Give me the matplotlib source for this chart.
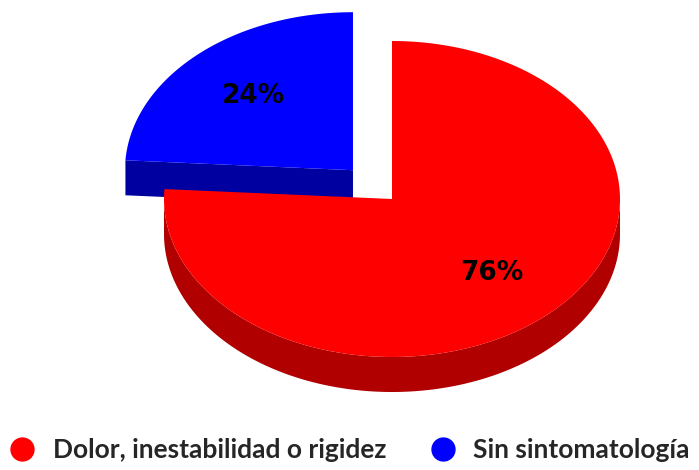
import numpy as np
from matplotlib import pyplot as plt
from matplotlib.patches import Polygon
from matplotlib.lines import Line2D

# chart data
labels = ['Dolor, inestabilidad o rigidez', 'Sin sintomatología']
values = [76, 24]
top_colors = ['#FF0000', '#0000FF']
side_colors = ['#B00000', '#0000A0']
explode = [0.0, 0.25]

# geometry of the 3D pie, in pixels
cx, cy = 392, 199
rx, ry = 228, 158
depth = 35


def ellipse_pts(a0, a1, dx, dy, down=0):
    a = np.radians(np.linspace(a0, a1, 200))
    return np.column_stack([cx + dx + rx * np.cos(a), cy + dy - ry * np.sin(a) + down])


fig = plt.figure(figsize=(6.99, 4.70), dpi=100)
ax = fig.add_axes([0, 0, 1, 1])
ax.set_xlim(0, 699)
ax.set_ylim(470, 0)
ax.axis('off')

# slices go clockwise from 12 o'clock, like Excel
fracs = np.array(values) / sum(values)
ends = 90 - 360 * np.cumsum(fracs)
starts = np.concatenate([[90], ends[:-1]])
slices = []
for i in range(len(values)):
    a0, a1 = ends[i], starts[i]  # increasing angle range
    mid = np.radians((a0 + a1) / 2)
    dx = explode[i] * rx * np.cos(mid)
    dy = -explode[i] * ry * np.sin(mid)
    slices.append((i, a0, a1, dx, dy))

# back slices first
slices.sort(key=lambda s: s[4])
for i, a0, a1, dx, dy in slices:
    # radial faces
    for a, sign in [(a0, 1), (a1, -1)]:
        normal = np.radians(a - 90 * sign)
        if np.sin(normal) < -1e-6:
            ex = cx + dx + rx * np.cos(np.radians(a))
            ey = cy + dy - ry * np.sin(np.radians(a))
            face = [(cx + dx, cy + dy), (ex, ey), (ex, ey + depth), (cx + dx, cy + dy + depth)]
            ax.add_patch(Polygon(face, closed=True, facecolor=side_colors[i], edgecolor='none'))
    # outer wall, front half only
    for k in range(-1, 2):
        lo = max(a0, 180 + 360 * k)
        hi = min(a1, 360 + 360 * k)
        if hi > lo:
            top = ellipse_pts(lo, hi, dx, dy)
            bot = ellipse_pts(lo, hi, dx, dy, depth)[::-1]
            ax.add_patch(Polygon(np.vstack([top, bot]), closed=True,
                                 facecolor=side_colors[i], edgecolor='none'))
    # top surface
    pts = np.vstack([[(cx + dx, cy + dy)], ellipse_pts(a0, a1, dx, dy)])
    ax.add_patch(Polygon(pts, closed=True, facecolor=top_colors[i], edgecolor='none'))
    # percentage label
    mid = np.radians((a0 + a1) / 2)
    lx = cx + dx + 0.64 * rx * np.cos(mid)
    ly = cy + dy - 0.64 * ry * np.sin(mid)
    ax.text(lx, ly, f'{values[i]}%', ha='center', va='center',
            fontsize=19, fontweight='bold', family='DejaVu Sans', color='black')

handles = [Line2D([], [], marker='o', linestyle='none', markersize=16.5,
                  markerfacecolor=c, markeredgecolor=c) for c in top_colors]
ax.legend(handles, labels, loc='center', bbox_to_anchor=(0.5, 1 - 450 / 470), ncol=2,
          frameon=False, handlelength=1.0, handletextpad=0.64, columnspacing=1.67,
          prop={'family': 'Lato', 'weight': 'bold', 'size': 19}, labelcolor='#262626')

fig.savefig('out.png', dpi=100)
